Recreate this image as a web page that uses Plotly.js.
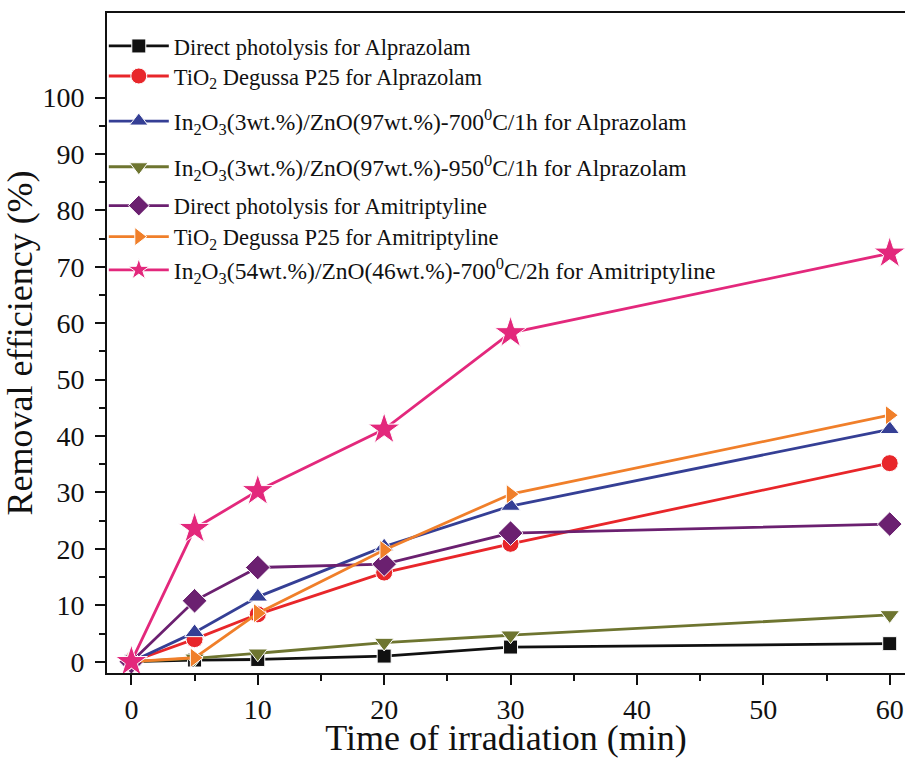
<!DOCTYPE html>
<html>
<head>
<meta charset="utf-8">
<script src="https://cdn.plot.ly/plotly-3.0.1.min.js"></script>
<style>html,body{margin:0;padding:0;background:#fff;}#chart{width:905px;height:758px;}</style>
</head>
<body>
<div id="chart"></div>
<script>
// Time of irradiation (min)
const time = [0, 5, 10, 20, 30, 60];

// Removal efficiency (%)
const alpDirect = [0, 0.3, 0.4, 1.0, 2.6, 3.2];
const alpTiO2   = [0, 4.0, 8.4, 15.8, 20.9, 35.2];
const alpIn700  = [0, 5.2, 11.5, 20.4, 27.6, 41.2];
const alpIn950  = [0, 0.6, 1.5, 3.4, 4.7, 8.3];
const amiDirect = [0, 10.8, 16.7, 17.3, 22.8, 24.4];
const amiTiO2   = [0, 0.7, 8.6, 19.8, 29.7, 43.7];
const amiIn     = [0, 23.6, 30.3, 41.2, 58.3, 72.4];

const seriesNames = [
  'Direct photolysis for Alprazolam',
  'TiO<sub>2</sub> Degussa P25 for Alprazolam',
  'In<sub>2</sub>O<sub>3</sub>(3wt.%)/ZnO(97wt.%)-700<sup>0</sup>C/1h for Alprazolam',
  'In<sub>2</sub>O<sub>3</sub>(3wt.%)/ZnO(97wt.%)-950<sup>0</sup>C/1h for Alprazolam',
  'Direct photolysis for Amitriptyline',
  'TiO<sub>2</sub> Degussa P25 for Amitriptyline',
  'In<sub>2</sub>O<sub>3</sub>(54wt.%)/ZnO(46wt.%)-700<sup>0</sup>C/2h for Amitriptyline'
];
const seriesValues = [alpDirect, alpTiO2, alpIn700, alpIn950, amiDirect, amiTiO2, amiIn];

const xTicks = [0, 10, 20, 30, 40, 50, 60];
const yTicks = [0, 10, 20, 30, 40, 50, 60, 70, 80, 90, 100];
const yMinor = [5, 15, 25, 35, 45, 55, 65, 75, 85, 95];

const colors = ['#111111', '#e8262a', '#353f95', '#6e7530', '#6b2070', '#f07f2a', '#e3287c'];
const symbols = ['square', 'circle', 'triangle-up', 'triangle-down', 'diamond', 'triangle-right', 'star'];
const sizes = [14, 17, 17, 17, 19, 17, 24];
const legendY = [0.9495, 0.904, 0.8359, 0.7667, 0.7076, 0.6606, 0.6106];
const legendSize = [22.5, 22.5, 23.5, 23.5, 22.5, 22.5, 23.5];

const FONT = 'Liberation Serif, Times New Roman, serif';

const traces = seriesValues.map((vals, i) => ({
  x: time,
  y: vals,
  type: 'scatter',
  mode: 'lines+markers',
  name: seriesNames[i],
  legend: i === 0 ? 'legend' : 'legend' + (i + 1),
  line: {color: colors[i], width: 2.8},
  marker: {symbol: symbols[i], size: sizes[i], color: colors[i], line: {color: '#ffffff', width: 1}}
}));

const layout = {
  width: 905,
  height: 758,
  margin: {l: 107, r: 0, t: 13, b: 85},
  paper_bgcolor: '#ffffff',
  plot_bgcolor: '#ffffff',
  font: {family: FONT, color: '#111111'},
  showlegend: true,
  xaxis: {
    range: [-1.93, 61.21],
    tickmode: 'array',
    tickvals: xTicks,
    ticktext: xTicks.map(String),
    ticks: 'outside',
    ticklen: 10,
    tickwidth: 2,
    tickcolor: '#111',
    minor: {tickmode: 'linear', tick0: 5, dtick: 10, ticks: 'outside', ticklen: 6, tickwidth: 2, tickcolor: '#111'},
    showline: true,
    linewidth: 2,
    linecolor: '#111',
    mirror: true,
    showgrid: false,
    zeroline: false,
    automargin: false,
    tickfont: {family: FONT, size: 28, color: '#111'},
    title: {text: 'Time of irradiation (min)', font: {family: FONT, size: 36, color: '#111'}, standoff: 7}
  },
  yaxis: {
    range: [-2, 115],
    tickmode: 'array',
    tickvals: yTicks,
    ticktext: yTicks.map(String),
    ticks: 'outside',
    ticklen: 10,
    tickwidth: 2,
    tickcolor: '#111',
    minor: {tickmode: 'array', tickvals: yMinor, ticks: 'outside', ticklen: 6, tickwidth: 2, tickcolor: '#111'},
    showline: true,
    linewidth: 2,
    linecolor: '#111',
    mirror: false,
    showgrid: false,
    zeroline: false,
    automargin: false,
    ticklabelstandoff: 5,
    tickfont: {family: FONT, size: 28, color: '#111'},
    title: {text: 'Removal efficiency (%)', font: {family: FONT, size: 36, color: '#111'}, standoff: 6}
  }
};

legendY.forEach((yy, i) => {
  const key = i === 0 ? 'legend' : 'legend' + (i + 1);
  layout[key] = {
    x: -0.004, xanchor: 'left',
    y: yy, yanchor: 'middle',
    bgcolor: 'rgba(0,0,0,0)',
    borderwidth: 0,
    itemwidth: 60,
    font: {family: FONT, size: legendSize[i], color: '#111'},
    tracegroupgap: 0
  };
});

Plotly.newPlot('chart', traces, layout, {displayModeBar: false, staticPlot: true});
</script>
</body>
</html>
